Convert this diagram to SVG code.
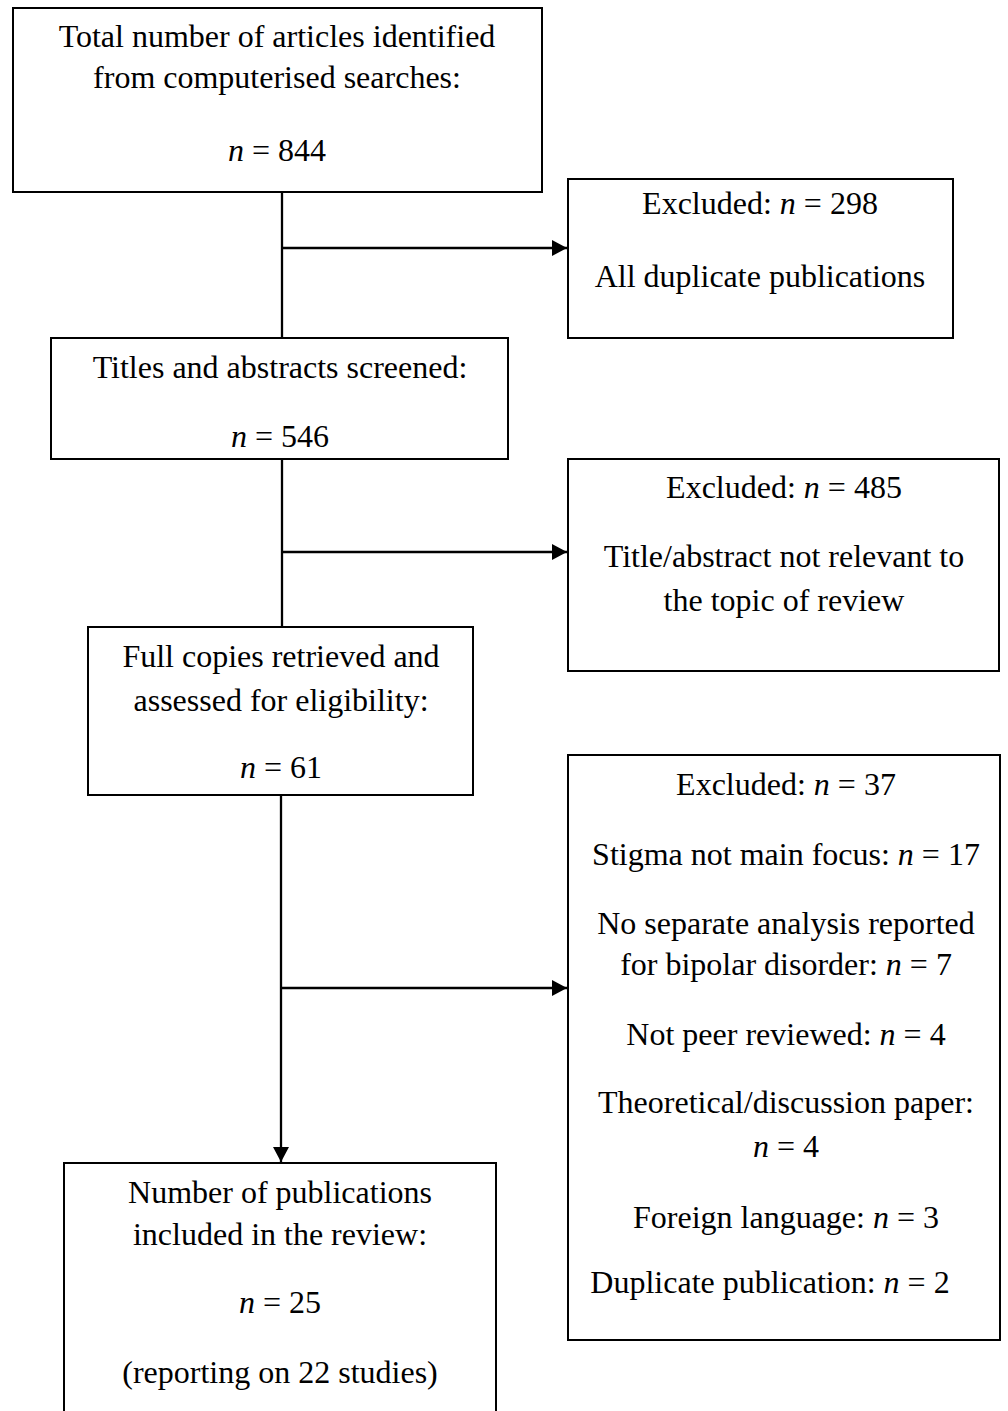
<svg xmlns="http://www.w3.org/2000/svg" width="1008" height="1411" viewBox="0 0 1008 1411">
<style>
.box{fill:#fff;stroke:#000;stroke-width:2}
.t{font-family:"Liberation Serif","Times New Roman",serif;font-size:32px;fill:#000;text-anchor:middle}
.i{font-style:italic}
.c{fill:none;stroke:#000;stroke-width:2.3}
</style>
<defs>
<marker id="ah" markerUnits="userSpaceOnUse" markerWidth="16" markerHeight="16" refX="15" refY="8" orient="auto">
<path d="M0,0 L15,8 L0,16 z" fill="#000"/>
</marker>
</defs>
<rect width="1008" height="1411" fill="#fff"/>
<g id="connectors">
<line class="c" x1="282" y1="192" x2="282" y2="338"/>
<line class="c" x1="282" y1="248" x2="567" y2="248" marker-end="url(#ah)"/>
<line class="c" x1="282" y1="459" x2="282" y2="627"/>
<line class="c" x1="282" y1="552" x2="567" y2="552" marker-end="url(#ah)"/>
<line class="c" x1="281" y1="795" x2="281" y2="1162" marker-end="url(#ah)"/>
<line class="c" x1="281" y1="988" x2="567" y2="988" marker-end="url(#ah)"/>
</g>
<g id="n1">
<rect class="box" x="13" y="8" width="529" height="184"/>
<text class="t" x="277" y="47">Total number of articles identified</text>
<text class="t" x="277" y="88">from computerised searches:</text>
<text class="t" x="277" y="161"><tspan class="i">n</tspan> = 844</text>
</g>
<g id="n2">
<rect class="box" x="568" y="179" width="385" height="159"/>
<text class="t" x="760" y="214">Excluded: <tspan class="i">n</tspan> = 298</text>
<text class="t" x="760" y="287">All duplicate publications</text>
</g>
<g id="n3">
<rect class="box" x="51" y="338" width="457" height="121"/>
<text class="t" x="280" y="378">Titles and abstracts screened:</text>
<text class="t" x="280" y="447"><tspan class="i">n</tspan> = 546</text>
</g>
<g id="n4">
<rect class="box" x="568" y="459" width="431" height="212"/>
<text class="t" x="784" y="498">Excluded: <tspan class="i">n</tspan> = 485</text>
<text class="t" x="784" y="567">Title/abstract not relevant to</text>
<text class="t" x="784" y="611">the topic of review</text>
</g>
<g id="n5">
<rect class="box" x="88" y="627" width="385" height="168"/>
<text class="t" x="281" y="667">Full copies retrieved and</text>
<text class="t" x="281" y="711">assessed for eligibility:</text>
<text class="t" x="281" y="778"><tspan class="i">n</tspan> = 61</text>
</g>
<g id="n6">
<rect class="box" x="568" y="755" width="432" height="585"/>
<text class="t" x="786" y="795">Excluded: <tspan class="i">n</tspan> = 37</text>
<text class="t" x="786" y="865">Stigma not main focus: <tspan class="i">n</tspan> = 17</text>
<text class="t" x="786" y="934">No separate analysis reported</text>
<text class="t" x="786" y="975">for bipolar disorder: <tspan class="i">n</tspan> = 7</text>
<text class="t" x="786" y="1045">Not peer reviewed: <tspan class="i">n</tspan> = 4</text>
<text class="t" x="786" y="1113">Theoretical/discussion paper:</text>
<text class="t" x="786" y="1157"><tspan class="i">n</tspan> = 4</text>
<text class="t" x="786" y="1228">Foreign language: <tspan class="i">n</tspan> = 3</text>
<text class="t" x="770" y="1293">Duplicate publication: <tspan class="i">n</tspan> = 2</text>
</g>
<g id="n7">
<rect class="box" x="64" y="1163" width="432" height="270"/>
<text class="t" x="280" y="1203">Number of publications</text>
<text class="t" x="280" y="1245">included in the review:</text>
<text class="t" x="280" y="1313"><tspan class="i">n</tspan> = 25</text>
<text class="t" x="280" y="1383">(reporting on 22 studies)</text>
</g>
</svg>
